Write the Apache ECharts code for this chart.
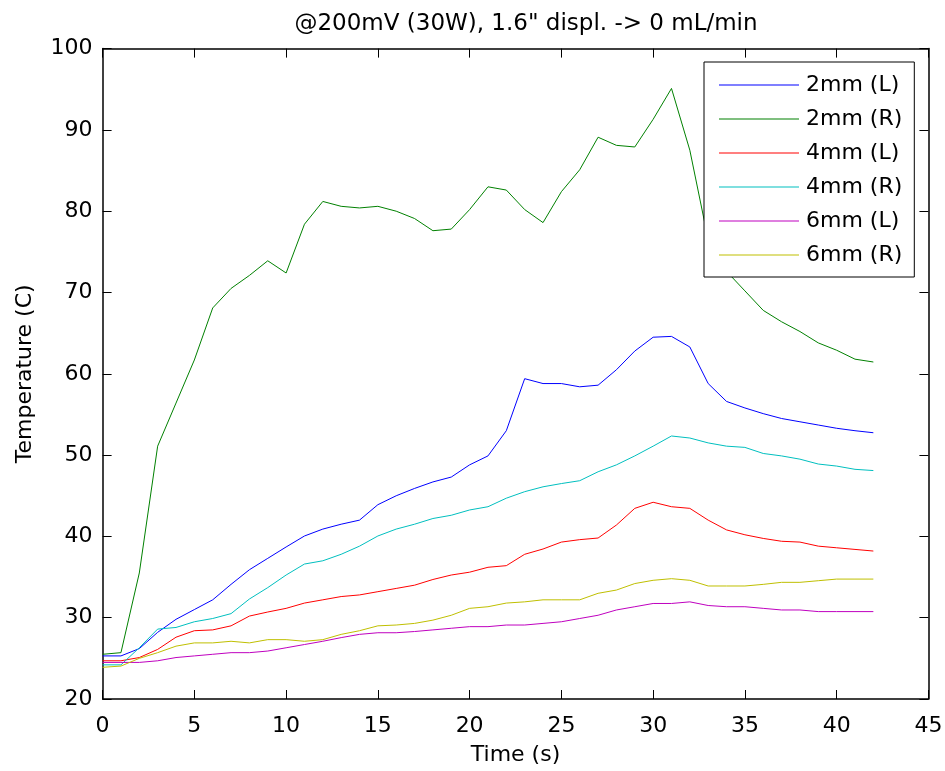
<!DOCTYPE html>
<html>
<head>
<meta charset="utf-8">
<script src="https://cdn.jsdelivr.net/npm/echarts@6/dist/echarts.min.js"></script>
<style>
  html, body { margin: 0; padding: 0; background: #fff; }
  #chart { width: 945px; height: 771px; }
</style>
</head>
<body>
<div id="chart"></div>
<script>
// Sample times (s)
const timeSec = [0, 1, 2, 3, 4, 5, 6, 7, 8, 9, 10, 11, 12, 13, 14, 15, 16, 17, 18, 19, 20,
  21, 22, 23, 24, 25, 26, 27, 28, 29, 30, 31, 32, 33, 34, 35, 36, 37, 38, 39, 40, 41, 42];

// Temperatures (C) per probe
const t2mmL = [25.3, 25.3, 26.2, 28.2, 29.8, 31.0, 32.2, 34.1, 35.9, 37.3, 38.7, 40.05, 40.9, 41.5, 42.0,
  43.9, 45.0, 45.9, 46.7, 47.3, 48.8, 49.9, 53.0, 59.4, 58.8, 58.8, 58.4, 58.6, 60.5, 62.8, 64.5,
  64.6, 63.3, 58.8, 56.6, 55.8, 55.1, 54.5, 54.1, 53.7, 53.3, 53.0, 52.75];
const t2mmR = [25.5, 25.7, 35.5, 51.1, 56.4, 61.7, 68.1, 70.5, 72.1, 73.9, 72.4, 78.4, 81.2, 80.6, 80.4,
  80.6, 80.0, 79.1, 77.6, 77.8, 80.2, 83.0, 82.6, 80.2, 78.6, 82.4, 85.1, 89.1, 88.1, 87.9, 91.3,
  95.1, 87.5, 76.5, 72.6, 70.2, 67.8, 66.4, 65.2, 63.8, 62.9, 61.8, 61.45];
const t4mmL = [24.7, 24.7, 25.1, 26.1, 27.6, 28.4, 28.5, 29.0, 30.2, 30.7, 31.15, 31.8, 32.2, 32.6, 32.8,
  33.2, 33.6, 34.0, 34.7, 35.25, 35.6, 36.2, 36.4, 37.8, 38.45, 39.3, 39.6, 39.8, 41.4, 43.45, 44.2,
  43.65, 43.45, 42.0, 40.8, 40.2, 39.75, 39.4, 39.3, 38.8, 38.6, 38.4, 38.2];
const t4mmR = [24.2, 24.2, 26.3, 28.6, 28.8, 29.5, 29.9, 30.5, 32.3, 33.7, 35.25, 36.6, 37.0, 37.8, 38.8,
  40.05, 40.9, 41.5, 42.2, 42.6, 43.25, 43.65, 44.7, 45.5, 46.1, 46.5, 46.85, 47.95, 48.8, 49.9, 51.1,
  52.35, 52.1, 51.5, 51.1, 50.95, 50.2, 49.9, 49.5, 48.9, 48.65, 48.25, 48.1];
const t6mmL = [24.5, 24.5, 24.5, 24.7, 25.1, 25.3, 25.5, 25.7, 25.7, 25.9, 26.3, 26.7, 27.1, 27.55, 27.95,
  28.15, 28.15, 28.3, 28.5, 28.7, 28.9, 28.9, 29.1, 29.1, 29.3, 29.5, 29.9, 30.3, 30.95, 31.35, 31.75,
  31.75, 31.95, 31.5, 31.35, 31.35, 31.15, 30.95, 30.95, 30.75, 30.75, 30.75, 30.75];
const t6mmR = [23.9, 24.05, 25.0, 25.7, 26.5, 26.9, 26.9, 27.1, 26.9, 27.3, 27.3, 27.1, 27.3, 27.95, 28.4,
  29.0, 29.1, 29.3, 29.7, 30.3, 31.15, 31.35, 31.8, 31.95, 32.2, 32.2, 32.2, 33.0, 33.4, 34.2, 34.6,
  34.8, 34.6, 33.9, 33.9, 33.9, 34.1, 34.35, 34.35, 34.55, 34.75, 34.75, 34.75];

const seriesNames = ['2mm (L)', '2mm (R)', '4mm (L)', '4mm (R)', '6mm (L)', '6mm (R)'];
const seriesValues = [t2mmL, t2mmR, t4mmL, t4mmR, t6mmL, t6mmR];
const seriesColors = ['#0000ff', '#008000', '#ff0000', '#00bfbf', '#bf00bf', '#bfbf00'];

const FONT = 'DejaVu Sans';

const chart = echarts.init(document.getElementById('chart'), null, { renderer: 'canvas' });

// Shared look for the four sides of the plot box: black frame with inward ticks
const boxAxisCommon = {
  type: 'value',
  axisLine: { show: true, onZero: false, lineStyle: { color: '#000', width: 1.5 } },
  axisTick: { show: true, inside: true, length: 9, lineStyle: { color: '#000', width: 1 } },
  splitLine: { show: false }
};

chart.setOption({
  animation: false,
  backgroundColor: '#fff',
  title: {
    text: '@200mV (30W), 1.6" displ. -> 0 mL/min',
    left: 521,
    top: 8,
    textAlign: 'center',
    textStyle: { fontFamily: FONT, fontSize: 23, fontWeight: 'normal', color: '#000' }
  },
  legend: {
    data: seriesNames.map((name, i) => ({ name: name, itemStyle: { color: seriesColors[i] } })),
    orient: 'vertical',
    left: 704,
    top: 62,
    icon: 'rect',
    itemWidth: 80,
    itemHeight: 1,
    itemGap: 10,
    padding: [11, 12, 10, 15],
    backgroundColor: '#fff',
    borderColor: '#000',
    borderWidth: 1,
    borderRadius: 0,
    textStyle: { fontFamily: FONT, fontSize: 22, lineHeight: 24, color: '#000', padding: [0, 0, 0, 2] }
  },
  grid: {
    left: 102.6,
    right: 16.6,
    top: 48.6,
    bottom: 72,
    containLabel: false,
    outerBoundsMode: 'none'
  },
  xAxis: [
    Object.assign({}, boxAxisCommon, {
      position: 'bottom',
      min: 0, max: 45, interval: 5,
      name: 'Time (s)',
      nameLocation: 'middle',
      nameGap: 45,
      nameTextStyle: { fontFamily: FONT, fontSize: 22, color: '#000' },
      axisLabel: { show: true, margin: 16, fontFamily: FONT, fontSize: 22, color: '#000' }
    }),
    Object.assign({}, boxAxisCommon, {
      position: 'top',
      min: 0, max: 45, interval: 5,
      axisLabel: { show: false }
    })
  ],
  yAxis: [
    Object.assign({}, boxAxisCommon, {
      position: 'left',
      min: 20, max: 100, interval: 10,
      name: 'Temperature (C)',
      nameLocation: 'middle',
      nameGap: 66,
      nameTextStyle: { fontFamily: FONT, fontSize: 22, color: '#000' },
      axisLabel: { show: true, margin: 10, fontFamily: FONT, fontSize: 22, color: '#000' }
    }),
    Object.assign({}, boxAxisCommon, {
      position: 'right',
      min: 20, max: 100, interval: 10,
      axisLabel: { show: false }
    })
  ],
  series: seriesNames.map((name, i) => ({
    name: name,
    type: 'line',
    xAxisIndex: 0,
    yAxisIndex: 0,
    data: timeSec.map((t, k) => [t, seriesValues[i][k]]),
    showSymbol: false,
    symbol: 'none',
    smooth: false,
    color: seriesColors[i],
    itemStyle: { color: seriesColors[i] },
    lineStyle: { color: seriesColors[i], width: 1 },
    emphasis: { disabled: true }
  }))
});
</script>
</body>
</html>
